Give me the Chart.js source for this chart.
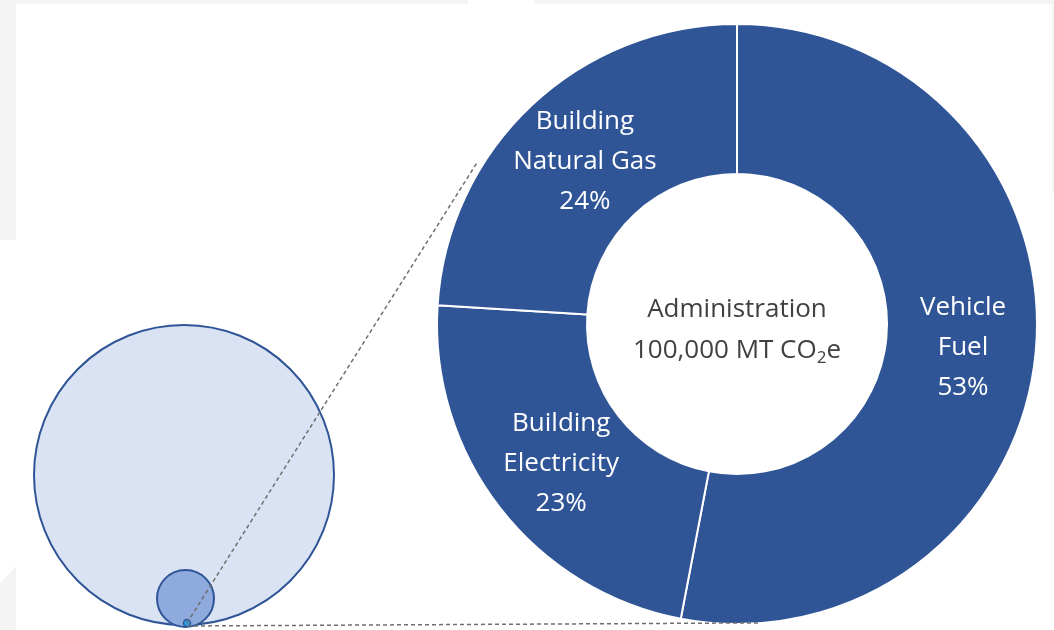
<!DOCTYPE html>
<html>
<head>
<meta charset="utf-8">
<title>Administration emissions</title>
<script src="https://cdn.jsdelivr.net/npm/chart.js@4.4.0/dist/chart.umd.min.js"></script>
<style>
    html, body { margin: 0; padding: 0; background: #fff; }
    #wrap { position: relative; width: 1054px; height: 630px; overflow: hidden; }
    .edge { position: absolute; background: #f4f4f4; }
    #chart { position: absolute; left: 0; top: 0; }
</style>
</head>
<body>
<div id="wrap">
    <div class="edge" style="left:0;top:0;width:468px;height:4px;"></div>
    <div class="edge" style="left:535px;top:0;width:519px;height:4px;"></div>
    <div class="edge" style="left:0;top:0;width:16px;height:240px;"></div>
    <div class="edge" style="left:1052px;top:0;width:2px;height:193px;"></div>
    <div class="edge" style="left:0;top:566px;width:16px;height:64px;clip-path:polygon(0 17px,16px 0,16px 64px,0 64px);"></div>
    <canvas id="chart" width="1054" height="630"></canvas>
</div>
<script>
// Emission sources (share of total, %)
const categories = ['Vehicle Fuel', 'Building Electricity', 'Building Natural Gas'];
const labelLines = [['Vehicle', 'Fuel'], ['Building', 'Electricity'], ['Building', 'Natural Gas']];
const shares = [53, 23, 24];
const centerTitle = 'Administration';
const totalEmissions = 100000; // MT CO2e

const BLUE = '#2f5597';
const FONT = '"Open Sans", Lato, sans-serif';

// Nested "zoom" circles on the left, drawn behind the doughnut
const nestedCircles = [
    { x: 184, y: 475, r: 150, fill: '#dae3f3', width: 2 },
    { x: 185.5, y: 598.5, r: 28.5, fill: '#8faadc', width: 2 },
    { x: 187, y: 623, r: 3.5, fill: '#2aa4e6', width: 1.5 }
];

const zoomCircles = {
    id: 'zoomCircles',
    beforeDatasetsDraw(chart) {
        const ctx = chart.ctx;
        ctx.save();
        nestedCircles.forEach(c => {
            ctx.beginPath();
            ctx.arc(c.x, c.y, c.r, 0, Math.PI * 2);
            ctx.fillStyle = c.fill;
            ctx.fill();
            ctx.lineWidth = c.width;
            ctx.strokeStyle = BLUE;
            ctx.stroke();
        });
        ctx.restore();
    },
    afterDatasetsDraw(chart) {
        // guide lines from the tiny circle out to the doughnut's rim
        const arc = chart.getDatasetMeta(0).data[0];
        if (!arc) return;
        const ctx = chart.ctx;
        const p = nestedCircles[2];
        const dx = p.x - arc.x, dy = p.y - arc.y;
        const d = Math.hypot(dx, dy);
        const base = Math.atan2(dy, dx);
        ctx.save();
        ctx.setLineDash([4, 3]);
        ctx.lineWidth = 1.5;
        ctx.strokeStyle = '#6f6f6f';
        // [side, rim offset, start drop, run-on past the rim]
        [[1, 6, 0, 0], [-1, -1, 3, 22]].forEach(([side, off, drop, ext]) => {
            const R = arc.outerRadius + off;
            const a = base + side * Math.acos(R / d);
            const tx = arc.x + R * Math.cos(a);
            const ty = arc.y + R * Math.sin(a);
            const sy = p.y + drop;
            const len = Math.hypot(tx - p.x, ty - sy);
            ctx.beginPath();
            ctx.moveTo(p.x, sy);
            ctx.lineTo(tx + (tx - p.x) / len * ext, ty + (ty - sy) / len * ext);
            ctx.stroke();
        });
        ctx.restore();
    }
};

// Category + percent labels inside each slice, and the centre caption
const sliceLabels = {
    id: 'sliceLabels',
    afterDatasetsDraw(chart) {
        const ctx = chart.ctx;
        const meta = chart.getDatasetMeta(0);
        const big = '400 26px ' + FONT, small = '400 17px ' + FONT;
        ctx.save();
        ctx.textAlign = 'center';
        ctx.textBaseline = 'middle';
        ctx.font = big;
        ctx.fillStyle = '#ffffff';
        meta.data.forEach((arc, i) => {
            const pos = arc.tooltipPosition();
            const lines = labelLines[i].concat([shares[i] + '%']);
            const lh = 40;
            lines.forEach((t, j) => {
                ctx.fillText(t, pos.x + 2, pos.y + 2 + (j - (lines.length - 1) / 2) * lh);
            });
        });

        const cx = meta.data[0].x, cy = meta.data[0].y;
        ctx.fillStyle = '#404040';
        ctx.fillText(centerTitle, cx, cy - 14);

        // "100,000 MT CO2e" with a subscript 2
        const main = totalEmissions.toLocaleString('en-US') + ' MT CO';
        ctx.font = big;
        const w1 = ctx.measureText(main).width;
        const w3 = ctx.measureText('e').width;
        ctx.font = small;
        const w2 = ctx.measureText('2').width;
        let x = cx - (w1 + w2 + w3) / 2;
        const y = cy + 27;
        ctx.textAlign = 'left';
        ctx.font = big;
        ctx.fillText(main, x, y);
        x += w1;
        ctx.font = small;
        ctx.fillText('2', x, y + 7);
        x += w2;
        ctx.font = big;
        ctx.fillText('e', x, y);
        ctx.restore();
    }
};

new Chart(document.getElementById('chart'), {
    type: 'doughnut',
    data: {
        labels: categories,
        datasets: [{
            data: shares,
            backgroundColor: BLUE,
            borderColor: '#ffffff',
            borderWidth: 2,
            hoverOffset: 0
        }]
    },
    options: {
        responsive: false,
        animation: false,
        cutout: '50%',
        rotation: 0,
        layout: { padding: { left: 436, right: 16, top: 23, bottom: 5 } },
        plugins: {
            legend: { display: false },
            tooltip: { enabled: false }
        }
    },
    plugins: [zoomCircles, sliceLabels]
});
</script>
</body>
</html>
